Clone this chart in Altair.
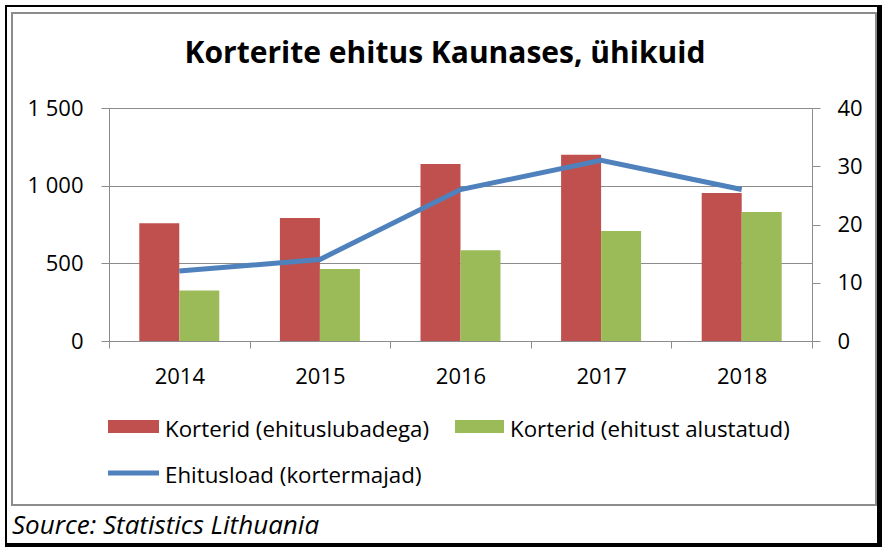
import altair as alt
import pandas as pd

# ---- data ----
years = ["2014", "2015", "2016", "2017", "2018"]
flats_permits = [758, 792, 1139, 1199, 953]      # Korterid (ehituslubadega)
flats_started = [325, 463, 584, 708, 831]        # Korterid (ehitust alustatud)
building_permits = [12, 14, 26, 31, 26]          # Ehitusload (kortermajad)

series_red = "Korterid (ehituslubadega)"
series_green = "Korterid (ehitust alustatud)"
series_line = "Ehitusload (kortermajad)"
title_text = "Korterite ehitus Kaunases, ühikuid"
source_text = "Source: Statistics Lithuania"

left_ticks = [0, 500, 1000, 1500]
right_ticks = [0, 10, 20, 30, 40]

bars_df = pd.DataFrame({
    "year": years * 2,
    "series": [series_red] * len(years) + [series_green] * len(years),
    "value": flats_permits + flats_started,
})
line_df = pd.DataFrame({"year": years, "value": building_permits})
one = pd.DataFrame({"k": [0]})

# ---- layout / style ----
LEFT, TOP, W, H = 109, 108, 703, 233
FONT = "Open Sans"
RED, GREEN, BLUE = "#C0504D", "#9BBB59", "#4F81BD"
GRAY = "#8C8C8C"


def rx(a):
    return a - LEFT


def ry(a):
    return a - TOP


x_enc = alt.X(
    "year:N", sort=years,
    scale=alt.Scale(paddingInner=0, paddingOuter=0),
    axis=alt.Axis(title=None, tickBand="extent", labelAngle=0, labelFont=FONT,
                  labelFontSize=22, labelColor="black", labelPadding=18,
                  tickSize=7, tickColor=GRAY, domainColor=GRAY, grid=False),
)

bars = alt.Chart(bars_df).mark_bar().encode(
    x=x_enc,
    xOffset=alt.XOffset("series:N", sort=[series_red, series_green],
                        scale=alt.Scale(paddingInner=0, paddingOuter=0.7575)),
    y=alt.Y("value:Q", scale=alt.Scale(domain=[0, 1500], nice=False),
            axis=alt.Axis(orient="left", values=left_ticks, title=None, grid=True,
                          gridColor=GRAY, gridWidth=1, domainColor=GRAY,
                          tickColor=GRAY, tickSize=8, labelFont=FONT,
                          labelFontSize=22, labelColor="black", labelPadding=18,
                          labelExpr="replace(format(datum.value, ','), ',', ' ')")),
    color=alt.Color("series:N", scale=alt.Scale(domain=[series_red, series_green],
                                                range=[RED, GREEN]), legend=None),
)

line = alt.Chart(line_df).mark_line(color=BLUE, strokeWidth=5, strokeCap="butt").encode(
    x=x_enc,
    y=alt.Y("value:Q", scale=alt.Scale(domain=[0, 40], nice=False),
            axis=alt.Axis(orient="right", values=right_ticks, title=None, grid=False,
                          domainColor=GRAY, tickColor=GRAY, tickSize=8,
                          labelFont=FONT, labelFontSize=22, labelColor="black",
                          labelPadding=17)),
)

deco = []
# outer black frame (thicker on right and bottom)
for (x1, x2, y1, y2) in [(5, 882, 5, 7), (5, 7, 5, 547), (877, 882, 5, 547), (5, 882, 543, 547)]:
    deco.append(alt.Chart(one).mark_rect(color="black").encode(
        x=alt.value(rx(x1)), x2=alt.value(rx(x2)), y=alt.value(ry(y1)), y2=alt.value(ry(y2))))
# inner gray frame
deco.append(alt.Chart(one).mark_rect(fillOpacity=0, stroke=GRAY, strokeWidth=2).encode(
    x=alt.value(rx(12)), x2=alt.value(rx(876)), y=alt.value(ry(13)), y2=alt.value(ry(505))))

# title
deco.append(alt.Chart(one).mark_text(text=title_text, font=FONT, fontSize=30, fontWeight="bold",
                                     align="center", baseline="alphabetic", color="black").encode(
    x=alt.value(rx(445)), y=alt.value(ry(63))))

# legend
deco.append(alt.Chart(one).mark_rect(color=RED).encode(
    x=alt.value(rx(108)), x2=alt.value(rx(159)), y=alt.value(ry(420)), y2=alt.value(ry(433))))
deco.append(alt.Chart(one).mark_rect(color=GREEN).encode(
    x=alt.value(rx(455)), x2=alt.value(rx(504)), y=alt.value(ry(420)), y2=alt.value(ry(433))))
deco.append(alt.Chart(one).mark_rule(color=BLUE, strokeWidth=5).encode(
    x=alt.value(rx(108)), x2=alt.value(rx(159)), y=alt.value(ry(473))))
for label, xa, ya in [(series_red, 165, 437), (series_green, 510, 437), (series_line, 165, 483)]:
    deco.append(alt.Chart(one).mark_text(text=label, font=FONT, fontSize=22.3, align="left",
                                         baseline="alphabetic", color="black").encode(
        x=alt.value(rx(xa)), y=alt.value(ry(ya))))

# source
deco.append(alt.Chart(one).mark_text(text=source_text, font=FONT, fontSize=26, fontStyle="italic",
                                     align="left", baseline="alphabetic", color="black").encode(
    x=alt.value(rx(12)), y=alt.value(ry(534))))

chart = alt.layer(bars, line, *deco).resolve_scale(y="independent").properties(
    width=W, height=H,
    autosize=alt.AutoSizeParams(type="none"),
    padding={"left": LEFT, "top": TOP, "right": 888 - LEFT - W, "bottom": 556 - TOP - H},
    background="white",
).configure_view(strokeWidth=0)

chart.save("out.html", embed_options={"renderer": "svg", "actions": False})
